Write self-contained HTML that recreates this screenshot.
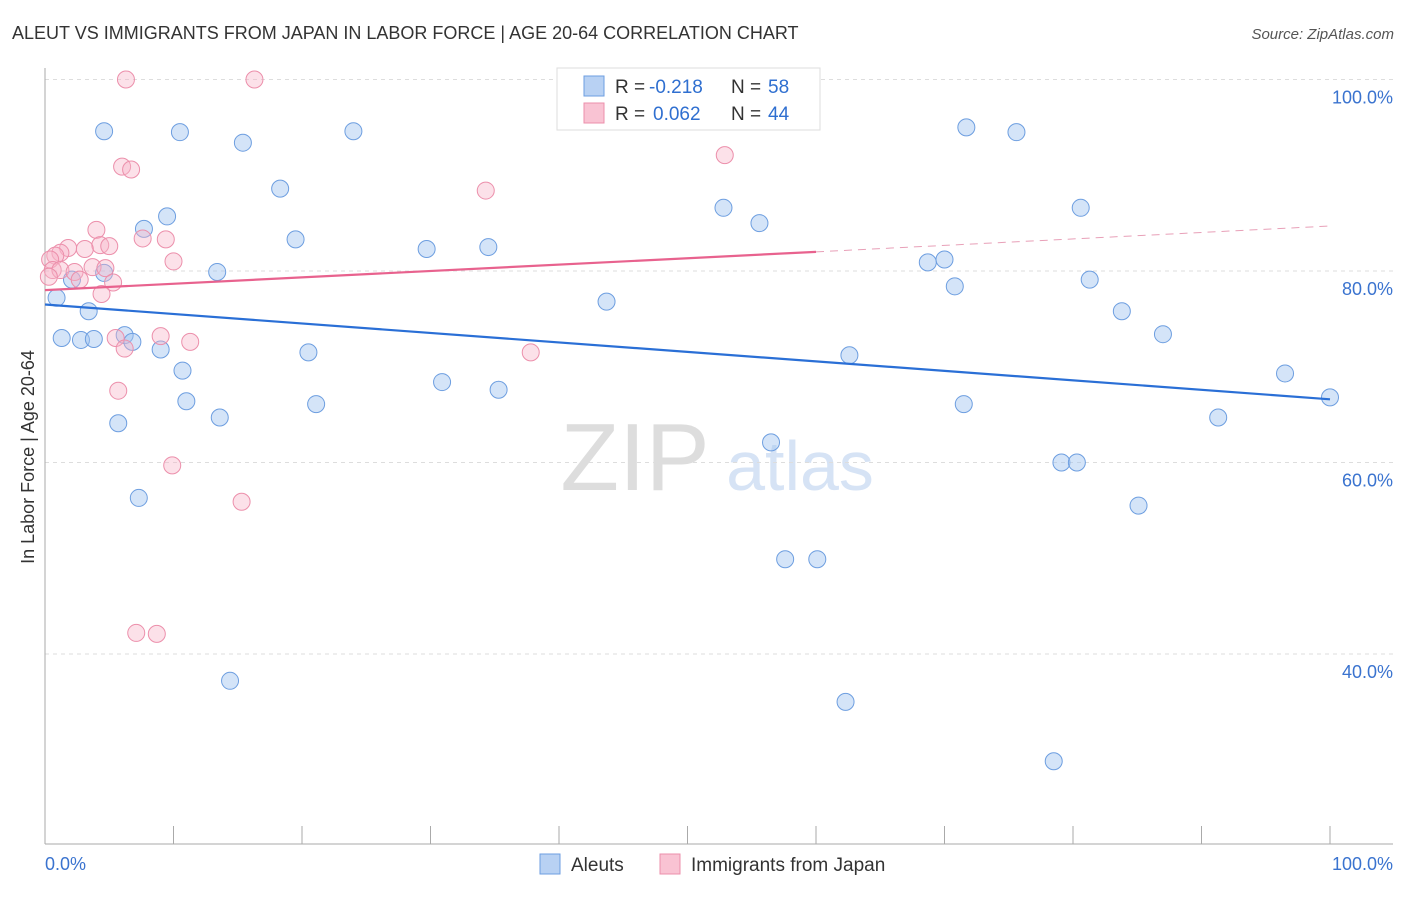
<!DOCTYPE html>
<html><head><meta charset="utf-8"><style>
body{margin:0;background:#fff;font-family:"Liberation Sans",sans-serif;}
svg text{font-family:"Liberation Sans",sans-serif;}
</style></head><body>
<svg id="c" width="1406" height="892" xmlns="http://www.w3.org/2000/svg">
<text x="12" y="39" font-size="18" fill="#333">ALEUT VS IMMIGRANTS FROM JAPAN IN LABOR FORCE | AGE 20-64 CORRELATION CHART</text>
<text x="1394" y="39" font-size="15" fill="#555" font-style="italic" text-anchor="end">Source: ZipAtlas.com</text>
<text x="635" y="490" font-size="96" fill="#ddd" font-family="Liberation Serif" text-anchor="middle">ZIP</text>
<text x="800" y="490" font-size="70" fill="#d6e3f5" text-anchor="middle">atlas</text>
<text transform="translate(34,457) rotate(-90)" font-size="18" fill="#333" text-anchor="middle">In Labor Force | Age 20-64</text>
<g id="grid"></g><g id="pts"></g><g id="lines"></g>
<g>
<rect x="557" y="68" width="263" height="62" fill="#fff" stroke="#ddd"/>
<rect x="584" y="76" width="20" height="20" fill="#b8d1f3" stroke="#6d9ee0"/>
<rect x="584" y="103" width="20" height="20" fill="#f9c3d3" stroke="#ec8fab"/>
<text x="615" y="93" font-size="19" fill="#333">R =</text>
<text x="649" y="93" font-size="19" fill="#2f6fd0">-0.218</text>
<text x="731" y="93" font-size="19" fill="#333">N =</text>
<text x="768" y="93" font-size="19" fill="#2f6fd0">58</text>
<text x="615" y="120" font-size="19" fill="#333">R =</text>
<text x="653" y="120" font-size="19" fill="#2f6fd0">0.062</text>
<text x="731" y="120" font-size="19" fill="#333">N =</text>
<text x="768" y="120" font-size="19" fill="#2f6fd0">44</text>
</g>
<g>
<rect x="540" y="854" width="20" height="20" fill="#b8d1f3" stroke="#6d9ee0"/>
<text x="571" y="871" font-size="19" fill="#333">Aleuts</text>
<rect x="660" y="854" width="20" height="20" fill="#f9c3d3" stroke="#ec8fab"/>
<text x="691" y="871" font-size="19" fill="#333">Immigrants from Japan</text>
</g>
<text x="45" y="870" font-size="18" fill="#3a73cf">0.0%</text>
<text x="1393" y="870" font-size="18" fill="#3a73cf" text-anchor="end">100.0%</text>
</svg>
<script>
const yTicks=[40,60,80,100];
const xTickVals=[0,10,20,30,40,50,60,70,80,90,100];
const aleutX=[4.6,10.5,15.4,24,71.7,75.6,18.3,9.5,7.7,19.5,29.7,34.5,52.8,55.6,80.6,13.4,4.6,2.1,0.9,3.4,1.3,2.8,3.8,6.2,6.8,9,20.5,10.7,11,13.6,21.1,30.9,35.3,43.7,68.7,70,70.8,81.3,83.8,87,62.6,71.5,96.5,100,91.3,5.7,56.5,79.1,80.3,7.3,85.1,57.6,60.1,14.4,62.3,78.5];
const aleutY=[94.6,94.5,93.4,94.6,95,94.5,88.6,85.7,84.4,83.3,82.3,82.5,86.6,85,86.6,79.9,79.8,79.1,77.2,75.8,73,72.8,72.9,73.3,72.6,71.8,71.5,69.6,66.4,64.7,66.1,68.4,67.6,76.8,80.9,81.2,78.4,79.1,75.8,73.4,71.2,66.1,69.3,66.8,64.7,64.1,62.1,60,60,56.3,55.5,49.9,49.9,37.2,35,28.8];
const japanX=[6.3,16.3,6,6.7,52.9,34.3,4,7.6,9.4,1.8,4.3,5,1.2,3.1,0.8,10,0.4,3.7,4.7,0.6,1.2,2.3,2.7,0.3,5.3,4.4,9,5.5,11.3,6.2,37.8,5.7,9.9,15.3,7.1,8.7];
const japanY=[100,100,90.9,90.6,92.1,88.4,84.3,83.4,83.3,82.4,82.7,82.6,81.9,82.3,81.6,81,81.2,80.4,80.3,80.1,80.1,79.9,79.1,79.4,78.8,77.6,73.2,73,72.6,71.9,71.5,67.5,59.7,55.9,42.2,42.1];
const trendAleut=[76.5,66.6];
const trendJapan=[78,82,84.7];
const X=v=>45+v*12.85, Y=v=>79.5+(100-v)*9.575;
const NS="http://www.w3.org/2000/svg";
function mk(t,a,p){const e=document.createElementNS(NS,t);for(const k in a)e.setAttribute(k,a[k]);p.appendChild(e);return e;}
const g=document.getElementById('grid');
for(const t of yTicks){
 const l=mk('line',{x1:45,x2:1393,y1:Y(t),y2:Y(t),stroke:'#ddd','stroke-dasharray':'4,4'},g);
 
 
 const tx=mk('text',{x:1393,y:Y(t)+24,'font-size':18,fill:'#3a73cf','text-anchor':'end'},g);tx.textContent=t.toFixed(1)+'%';
 
 
}
mk('line',{x1:45,x2:45,y1:68,y2:844,stroke:'#aaa'},g);
mk('line',{x1:45,x2:1393,y1:844,y2:844,stroke:'#aaa'},g);
for(const v of xTickVals){const l=mk('line',{x1:X(v),x2:X(v),y1:826,y2:844,stroke:'#aaa'},g);
 
 }
const p=document.getElementById('pts');
aleutX.forEach((x,i)=>{const c=mk('circle',{cx:X(x),cy:Y(aleutY[i]),r:8.5,fill:'rgba(160,195,240,0.45)',stroke:'#6d9ee0','stroke-width':1},p);
 
 });
japanX.forEach((x,i)=>{const c=mk('circle',{cx:X(x),cy:Y(japanY[i]),r:8.5,fill:'rgba(248,180,200,0.4)',stroke:'#ec8fab','stroke-width':1},p);
 
 });
const L=document.getElementById('lines');
let a=mk('line',{x1:X(0),y1:Y(trendAleut[0]),x2:X(100),y2:Y(trendAleut[1]),stroke:'#2a6fd6','stroke-width':2.2},L);


let b=mk('line',{x1:X(0),y1:Y(trendJapan[0]),x2:X(60),y2:Y(trendJapan[1]),stroke:'#e8628e','stroke-width':2.2},L);


let d=mk('line',{x1:X(60),y1:Y(trendJapan[1]),x2:X(100),y2:Y(trendJapan[2]),stroke:'#e8a0b8','stroke-width':1,'stroke-dasharray':'8,6'},L);


</script>
</body></html>
